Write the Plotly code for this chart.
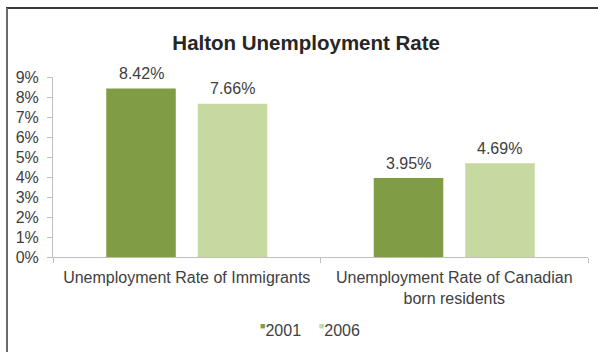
import plotly.graph_objects as go

# Chart data
categories = ["Unemployment Rate of Immigrants",
              "Unemployment Rate of Canadian<br>born residents"]
years = ["2001", "2006"]
rates_2001 = [8.42, 3.95]
rates_2006 = [7.66, 4.69]
y_ticks = list(range(0, 10))

colors = {"2001": "#809c45", "2006": "#c6d9a0"}
series = {"2001": rates_2001, "2006": rates_2006}

W, H = 598, 352
ML, MR, MT, MB = 53, 10, 77, 95
BARGAP = 0.316
FONT = "Liberation Sans, Arial, sans-serif"
TXT = "#404040"
FS = 16

fig = go.Figure()
for yr in years:
    fig.add_trace(go.Bar(
        x=categories, y=series[yr], name=yr,
        marker=dict(color=colors[yr], line=dict(width=0)),
        showlegend=False,
    ))

# value labels above each bar
slot = (1 - BARGAP) / len(years)
for i, yr in enumerate(years):
    off = (i - (len(years) - 1) / 2) * slot
    for c, v in enumerate(series[yr]):
        fig.add_annotation(
            x=c + off, y=v, xref="x", yref="y",
            text=f"{v:.2f}%", showarrow=False,
            yanchor="middle", yshift=15,
            font=dict(family=FONT, size=FS, color=TXT),
        )

pw = W - ML - MR
ph = H - MT - MB
def px_x(px):
    return (px - ML) / pw
def px_y(py):
    return (H - MB - py) / ph

# compact legend: small raised coloured square right before each year
legend_text = "    ".join(
    f"<sup><span style='color:{colors[yr]};font-size:9px'>■</span></sup>{yr}"
    for yr in years
)
fig.add_annotation(
    x=px_x(310), y=px_y(330), xref="paper", yref="paper",
    text=legend_text, showarrow=False, xanchor="center", yanchor="middle",
    font=dict(family=FONT, size=FS, color=TXT),
)

# frame lines along the top and left edge
fig.add_shape(type="line", xref="paper", yref="paper",
              x0=px_x(6), x1=px_x(598), y0=px_y(8), y1=px_y(8),
              line=dict(color="#3a3a3a", width=2))
fig.add_shape(type="line", xref="paper", yref="paper",
              x0=px_x(7), x1=px_x(7), y0=px_y(8), y1=px_y(352),
              line=dict(color="#6a6a6a", width=2))

fig.update_layout(
    width=W, height=H,
    margin=dict(l=ML, r=MR, t=MT, b=MB),
    paper_bgcolor="white", plot_bgcolor="white",
    barmode="group", bargap=BARGAP, bargroupgap=0.24,
    showlegend=False,
    title=dict(text="<b>Halton Unemployment Rate</b>", x=0.512, xanchor="center",
               y=1 - 43 / H, yanchor="middle",
               font=dict(family=FONT, size=20.5, color="#262626")),
    font=dict(family=FONT, size=FS, color=TXT),
    xaxis=dict(showline=True, linecolor="#bfbfbf", linewidth=1,
               ticks="outside", tickson="boundaries", ticklen=5,
               tickcolor="#bfbfbf", showgrid=False, ticklabelstandoff=6,
               tickfont=dict(family=FONT, size=FS, color=TXT)),
    yaxis=dict(range=[0, 9], tickvals=y_ticks,
               ticktext=[f"{t}%" for t in y_ticks],
               showline=True, linecolor="#bfbfbf", linewidth=1,
               ticks="outside", ticklen=5, tickcolor="#bfbfbf",
               showgrid=False, zeroline=False, ticklabelstandoff=5,
               tickfont=dict(family=FONT, size=FS, color=TXT)),
)

fig.write_html("out.html")
